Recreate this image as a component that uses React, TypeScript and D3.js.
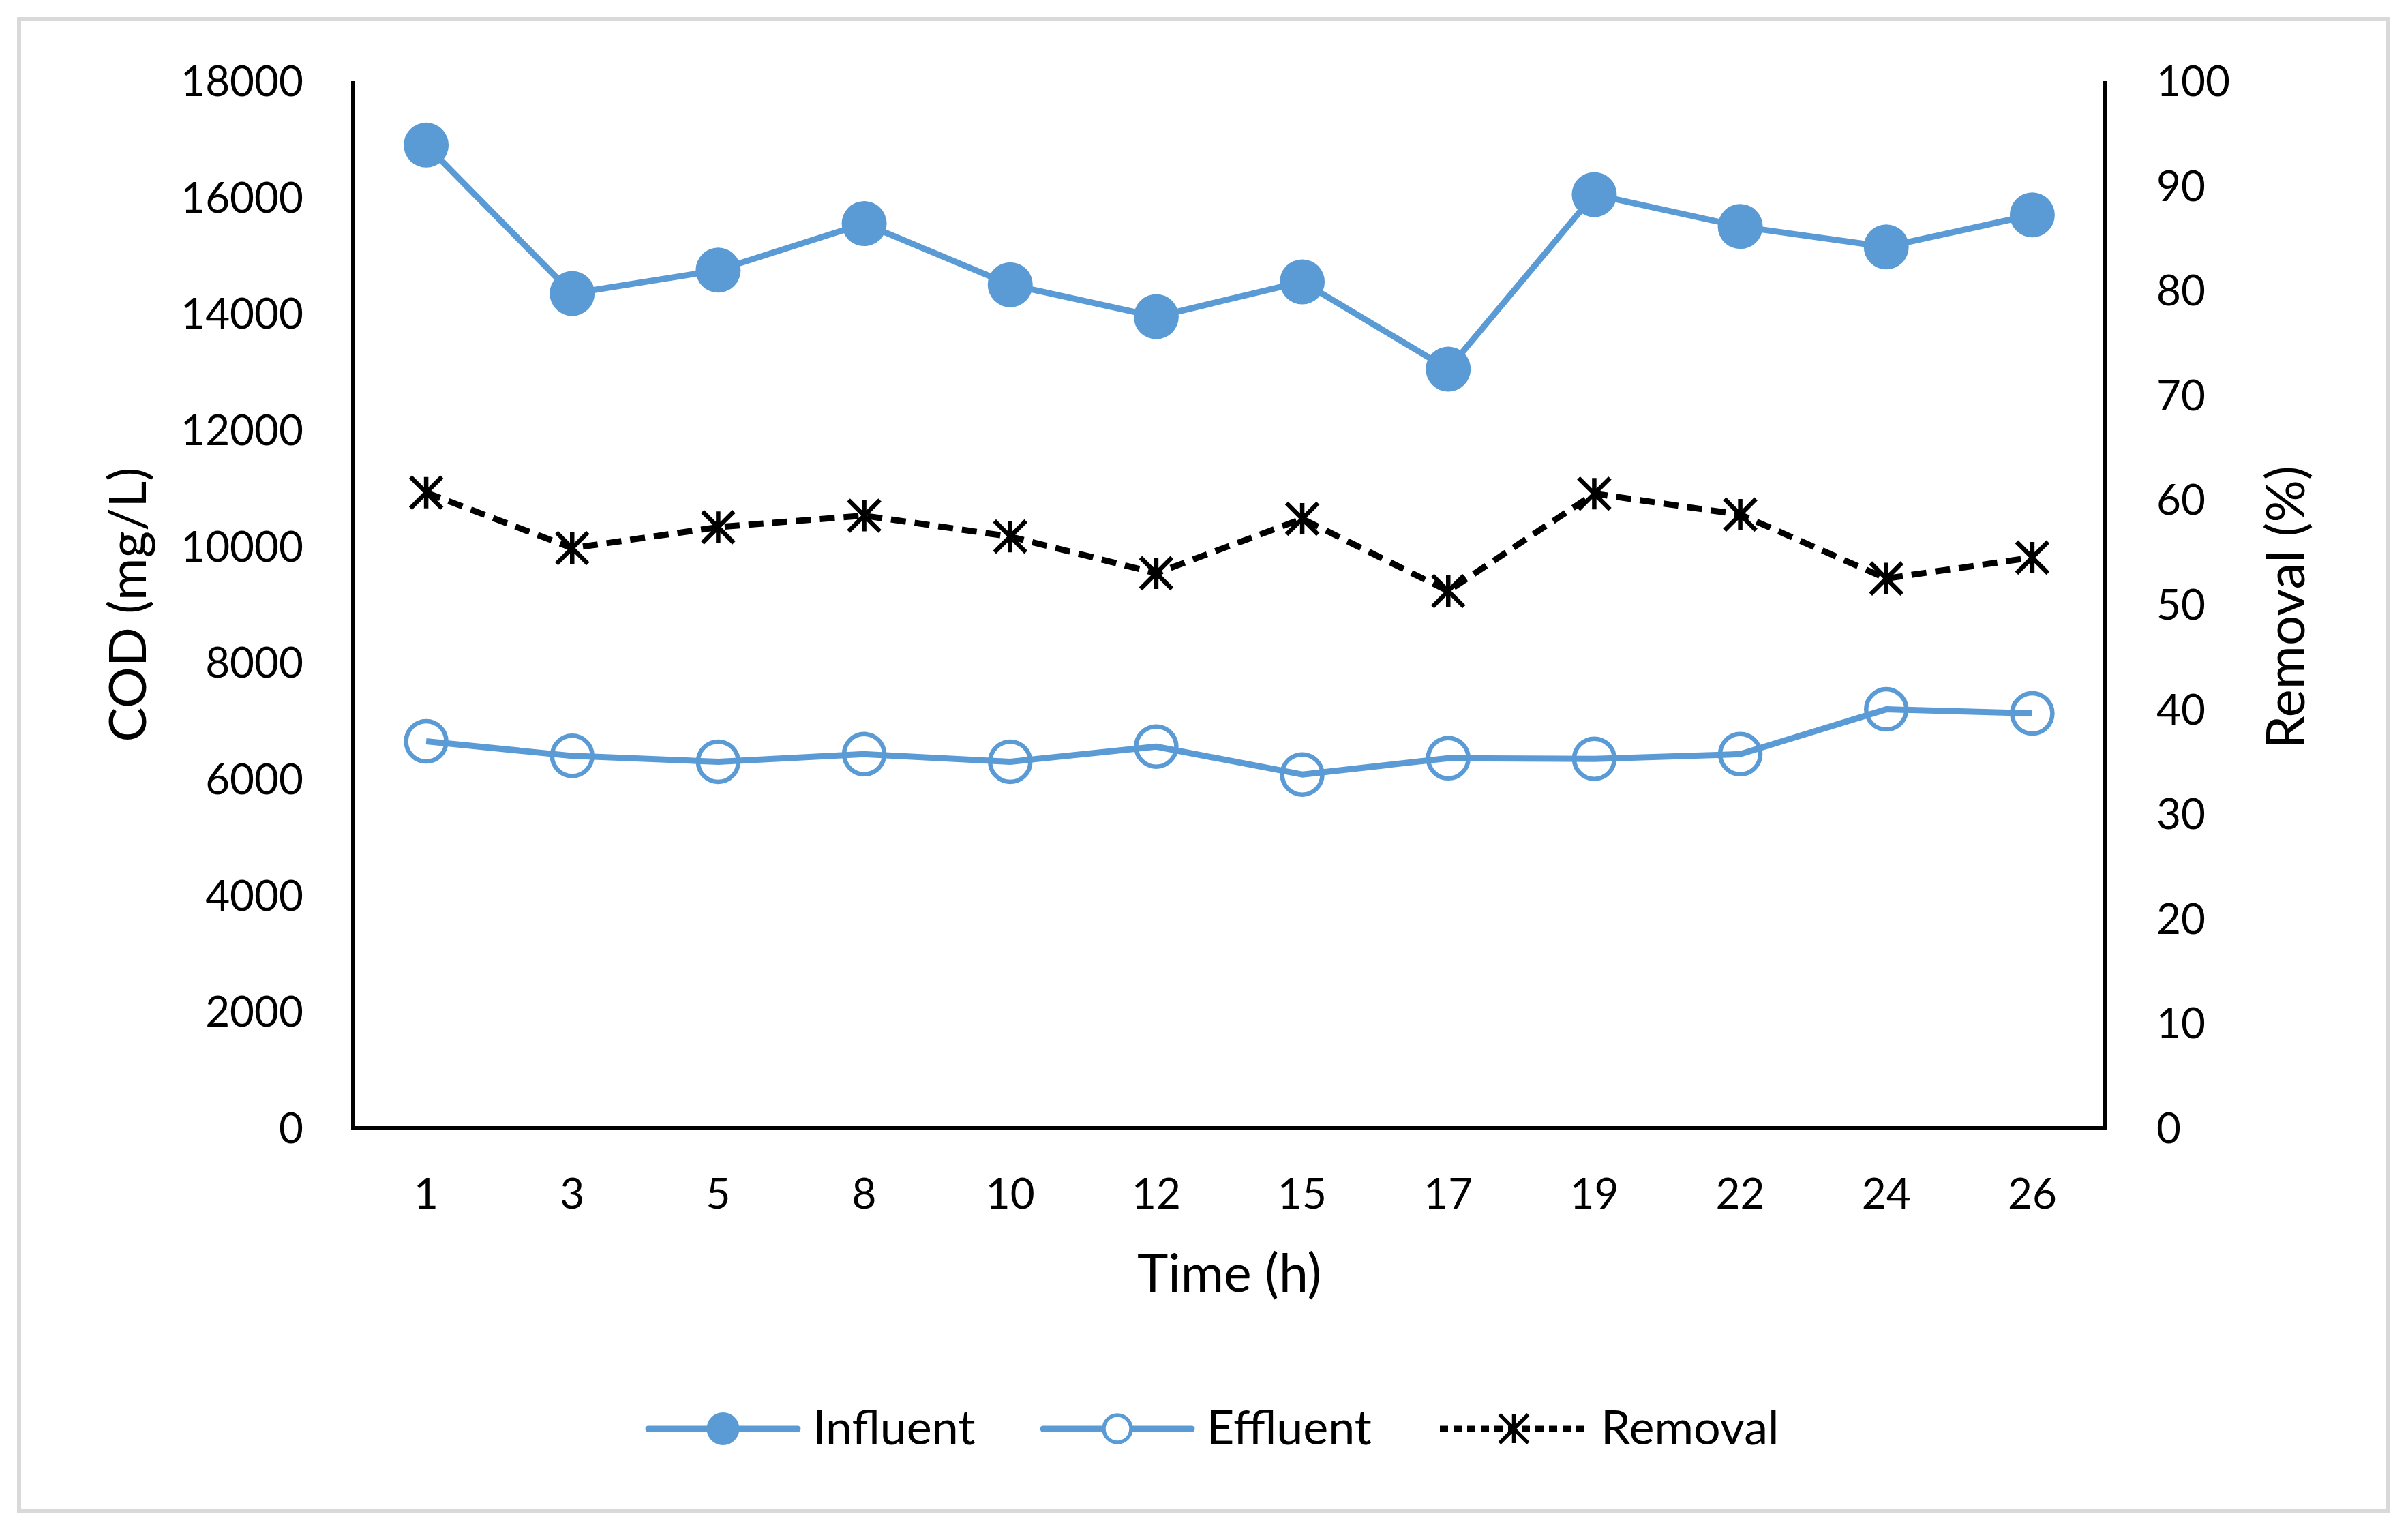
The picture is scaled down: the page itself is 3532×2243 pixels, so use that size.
import React, { useEffect, useRef } from 'react';
import * as d3 from 'd3';

// Sampling times (h) shown on the category axis
const timeLabels = ['1', '3', '5', '8', '10', '12', '15', '17', '19', '22', '24', '26'];
// COD (mg/L)
const influent = [16900, 14350, 14750, 15550, 14500, 13950, 14550, 13050, 16050, 15500, 15150, 15700];
const effluent = [6650, 6400, 6300, 6430, 6300, 6560, 6080, 6360, 6350, 6430, 7200, 7130];
// Removal (%)
const removal = [60.7, 55.4, 57.4, 58.5, 56.5, 53.0, 58.2, 51.3, 60.6, 58.6, 52.5, 54.5];

const codTicks = [0, 2000, 4000, 6000, 8000, 10000, 12000, 14000, 16000, 18000];
const removalTicks = [0, 10, 20, 30, 40, 50, 60, 70, 80, 90, 100];
const seriesNames = ['Influent', 'Effluent', 'Removal'];

const BLUE = '#5B9BD5';
const FONT = 'Lato, "Open Sans", sans-serif';

const COD_Chart: React.FC = () => {
  const svgRef = useRef<SVGSVGElement>(null);

  useEffect(() => {
    if (!svgRef.current) return;
    const width = 3532;
    const height = 2243;
    const plot = { left: 518, right: 3088, top: 119, bottom: 1655 };

    const svg = d3.select(svgRef.current);
    svg.selectAll('*').remove();
    svg.attr('width', width).attr('height', height);

    svg.append('rect').attr('width', width).attr('height', height).attr('fill', '#fff');
    // chart area border
    svg.append('rect')
      .attr('x', 28).attr('y', 28)
      .attr('width', 3503 - 28).attr('height', 2216 - 28)
      .attr('fill', 'none')
      .attr('stroke', '#D9D9D9')
      .attr('stroke-width', 6);

    const x = d3.scalePoint<string>()
      .domain(timeLabels)
      .range([plot.left, plot.right])
      .padding(0.5);
    const yLeft = d3.scaleLinear().domain([0, 18000]).range([plot.bottom, plot.top]);
    const yRight = d3.scaleLinear().domain([0, 100]).range([plot.bottom, plot.top]);

    // axis lines
    const axisPath = d3.path();
    axisPath.moveTo(plot.left, plot.top);
    axisPath.lineTo(plot.left, plot.bottom);
    axisPath.lineTo(plot.right, plot.bottom);
    axisPath.lineTo(plot.right, plot.top);
    svg.append('path')
      .attr('d', axisPath.toString())
      .attr('fill', 'none')
      .attr('stroke', '#000')
      .attr('stroke-width', 6)
      .attr('stroke-linejoin', 'miter');

    // tick labels
    svg.append('g').selectAll('text')
      .data(codTicks)
      .enter()
      .append('text')
      .attr('x', 445)
      .attr('y', d => yLeft(d) + 22)
      .attr('text-anchor', 'end')
      .style('font-family', FONT)
      .style('font-size', '62px')
      .text(d => `${d}`);

    svg.append('g').selectAll('text')
      .data(removalTicks)
      .enter()
      .append('text')
      .attr('x', 3163)
      .attr('y', d => yRight(d) + 22)
      .attr('text-anchor', 'start')
      .style('font-family', FONT)
      .style('font-size', '62px')
      .text(d => `${d}`);

    svg.append('g').selectAll('text')
      .data(timeLabels)
      .enter()
      .append('text')
      .attr('x', d => x(d) as number)
      .attr('y', 1773)
      .attr('text-anchor', 'middle')
      .style('font-family', FONT)
      .style('font-size', '62px')
      .text(d => d);

    // axis titles
    svg.append('text')
      .attr('x', (plot.left + plot.right) / 2)
      .attr('y', 1895)
      .attr('text-anchor', 'middle')
      .style('font-family', FONT)
      .style('font-size', '77px')
      .text('Time (h)');

    svg.append('text')
      .attr('transform', `translate(214, ${(plot.top + plot.bottom) / 2}) rotate(-90)`)
      .attr('text-anchor', 'middle')
      .style('font-family', FONT)
      .style('font-size', '76px')
      .text('COD (mg/L)');

    svg.append('text')
      .attr('transform', `translate(3380, ${(plot.top + plot.bottom) / 2 + 4}) rotate(-90)`)
      .attr('text-anchor', 'middle')
      .style('font-family', FONT)
      .style('font-size', '78px')
      .text('Removal (%)');

    const asterisk = (cx: number, cy: number, s: number) => {
      const p = d3.path();
      p.moveTo(cx, cy - s); p.lineTo(cx, cy + s);
      p.moveTo(cx - s, cy - s); p.lineTo(cx + s, cy + s);
      p.moveTo(cx + s, cy - s); p.lineTo(cx - s, cy + s);
      return p.toString();
    };

    // Influent
    const lineLeft = d3.line<number>()
      .x((d, i) => x(timeLabels[i]) as number)
      .y(d => yLeft(d));
    svg.append('path')
      .datum(influent)
      .attr('d', lineLeft)
      .attr('fill', 'none')
      .attr('stroke', BLUE)
      .attr('stroke-width', 9)
      .attr('stroke-linejoin', 'round');
    svg.append('g').selectAll('circle')
      .data(influent)
      .enter()
      .append('circle')
      .attr('cx', (d, i) => x(timeLabels[i]) as number)
      .attr('cy', d => yLeft(d))
      .attr('r', 33)
      .attr('fill', BLUE);

    // Effluent
    svg.append('path')
      .datum(effluent)
      .attr('d', lineLeft)
      .attr('fill', 'none')
      .attr('stroke', BLUE)
      .attr('stroke-width', 9)
      .attr('stroke-linejoin', 'round');
    svg.append('g').selectAll('circle')
      .data(effluent)
      .enter()
      .append('circle')
      .attr('cx', (d, i) => x(timeLabels[i]) as number)
      .attr('cy', d => yLeft(d))
      .attr('r', 29.5)
      .attr('fill', 'none')
      .attr('stroke', BLUE)
      .attr('stroke-width', 6.5);

    // Removal (secondary axis)
    const lineRight = d3.line<number>()
      .x((d, i) => x(timeLabels[i]) as number)
      .y(d => yRight(d));
    svg.append('path')
      .datum(removal)
      .attr('d', lineRight)
      .attr('fill', 'none')
      .attr('stroke', '#000')
      .attr('stroke-width', 9)
      .attr('stroke-dasharray', '22,13');
    svg.append('g').selectAll('path')
      .data(removal)
      .enter()
      .append('path')
      .attr('d', (d, i) => asterisk(x(timeLabels[i]) as number, yRight(d), 23))
      .attr('fill', 'none')
      .attr('stroke', '#000')
      .attr('stroke-width', 6.5);

    // legend
    const legendY = 2096;
    const legendItems = [
      { name: seriesNames[0], x0: 951, x1: 1170, tx: 1192 },
      { name: seriesNames[1], x0: 1530, x1: 1748, tx: 1770 },
      { name: seriesNames[2], x0: 2112, x1: 2329, tx: 2348 }
    ];
    legendItems.forEach((item, i) => {
      const g = svg.append('g');
      const mx = (item.x0 + item.x1) / 2;
      g.append('line')
        .attr('x1', item.x0).attr('x2', item.x1)
        .attr('y1', legendY).attr('y2', legendY)
        .attr('stroke', i === 2 ? '#000' : BLUE)
        .attr('stroke-width', 9)
        .attr('stroke-linecap', i === 2 ? 'butt' : 'round')
        .attr('stroke-dasharray', i === 2 ? '12,8' : null);
      if (i === 0) {
        g.append('circle').attr('cx', mx).attr('cy', legendY).attr('r', 24).attr('fill', BLUE);
      } else if (i === 1) {
        g.append('circle').attr('cx', mx).attr('cy', legendY).attr('r', 20)
          .attr('fill', '#fff').attr('stroke', BLUE).attr('stroke-width', 5.5);
      } else {
        g.append('path').attr('d', asterisk(mx, legendY, 21))
          .attr('fill', 'none').attr('stroke', '#000').attr('stroke-width', 5.5);
      }
      g.append('text')
        .attr('x', item.tx)
        .attr('y', 2119)
        .style('font-family', FONT)
        .style('font-size', '70px')
        .text(item.name);
    });
  }, []);

  return (
    <div style={{ position: 'absolute', left: 0, top: 0 }}>
      <svg ref={svgRef} style={{ display: 'block' }} />
    </div>
  );
};

export default function App() {
  return <COD_Chart />;
}
